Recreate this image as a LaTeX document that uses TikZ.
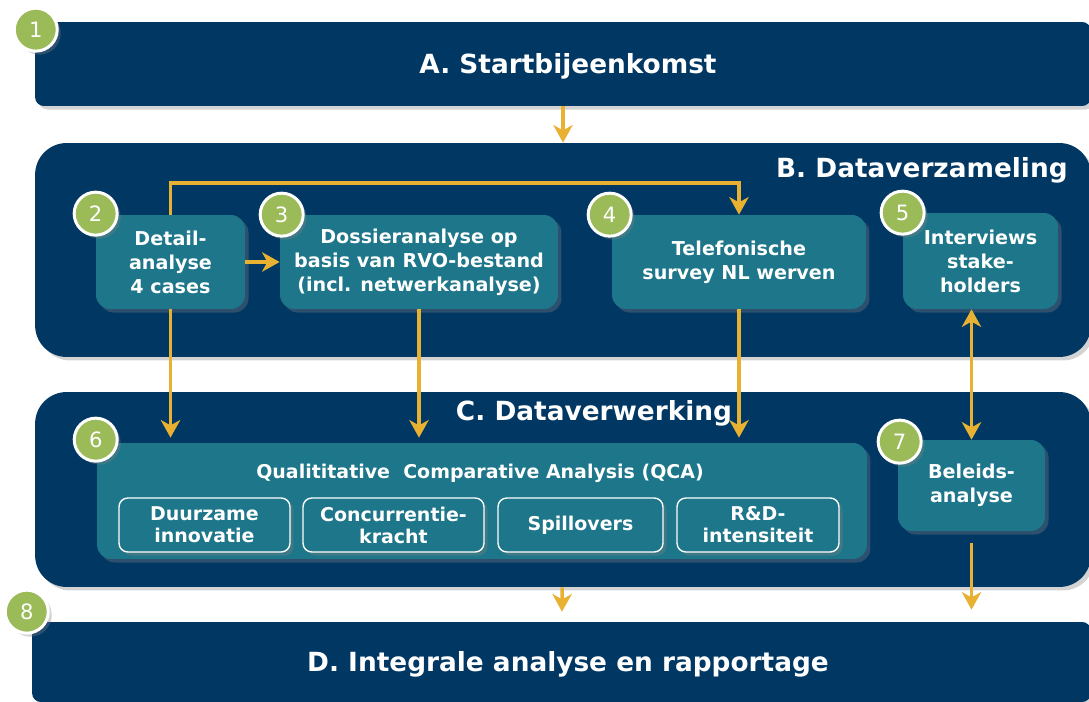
\documentclass[tikz,border=0pt]{standalone}
\usepackage{fontspec}
\setmainfont{DejaVu Sans}
\usetikzlibrary{positioning, arrows.meta, shadows}
\definecolor{navy}{RGB}{0,55,99}
\definecolor{petrol}{RGB}{29,118,137}
\definecolor{gold}{RGB}{232,177,50}
\definecolor{leaf}{RGB}{155,187,89}
\tikzset{>={Stealth[length=10pt, width=11pt, inset=3pt]},
	soft shadow/.style={drop shadow={opacity=0.35, shadow xshift=2pt, shadow yshift=-2pt}},
	phase/.style={fill=navy, text=white, soft shadow, font=\bfseries\fontsize{15}{18}\selectfont},
	title/.style={text=white, inner sep=0pt, font=\bfseries\fontsize{15}{18}\selectfont},
	task/.style={fill=petrol, rounded corners=8pt, text=white, align=center, soft shadow, font=\bfseries\fontsize{10.9}{13.6}\selectfont},
	factor/.style={draw=white, line width=0.8pt, fill=petrol, rounded corners=5pt, text=white, align=center, minimum height=1.08cm, soft shadow, font=\bfseries\fontsize{10.8}{12.5}\selectfont},
	num/.style={circle, fill=leaf, draw=white, line width=1.7pt, minimum size=0.86cm, inner sep=0pt, text=white, soft shadow, font=\fontsize{12}{12}\selectfont},
	flow/.style={draw=gold, line width=2pt, ->}}

\begin{document}
\begin{tikzpicture}[x=0.02cm, y=-0.02cm]
	\clip (0,0) rectangle (1089,702);
	% phases
	\node[phase, rounded corners=5pt, minimum width=21.12cm, minimum height=1.68cm] (Start) at (563,64) {};
	\node[phase, rounded corners=18pt, minimum width=21.12cm, minimum height=4.28cm] (Collect) at (563,250) {};
	\node[phase, rounded corners=18pt, minimum width=21.12cm, minimum height=3.9cm] (Process) at (563,489.5) {};
	\node[phase, rounded corners=5pt, minimum width=21.18cm, minimum height=1.6cm] (Report) at (561.5,662) {};
	\node[title] (Start title) at (568,66) {A. Startbijeenkomst};
	\node[title, anchor=east] (Collect title) at (1068,170) {B. Dataverzameling};
	\node[title] (Process title) at (594,413) {C. Dataverwerking};
	\node[title] (Report title) at (568,664) {D. Integrale analyse en rapportage};
	\coordinate (Top) at (0,183);

	% tasks
	\node[task, minimum width=2.98cm, minimum height=1.88cm] (Detail) at (170.5,262) {Detail-\\analyse\\4 cases};
	\node[task, minimum width=5.56cm, minimum height=1.88cm] (Dossier) at (419,262) {Dossieranalyse op\\basis van RVO-bestand\\(incl. netwerkanalyse)};
	\node[task, minimum width=5.08cm, minimum height=1.88cm] (Survey) at (739,262) {Telefonische\\survey NL werven};
	\node[task, minimum width=3.1cm, minimum height=1.92cm] (Interviews) at (980.5,261) {Interviews\\stake-\\holders};
	\node[task, minimum width=15.4cm, minimum height=2.32cm] (QCA) at (482,501) {};
	\node[text=white, inner sep=0pt, font=\bfseries\fontsize{10.8}{12}\selectfont] (QCA title) at (480,473) {Qualititative\ \ Comparative Analysis (QCA)};
	\node[factor, minimum width=3.42cm] (Duurzaam) at (204.5,525) {Duurzame\\innovatie};
	\node[factor, minimum width=3.62cm] (Concurrentie) at (393.5,525) {Concurrentie-\\kracht};
	\node[factor, minimum width=3.3cm] (Spillovers) at (580.5,525) {Spillovers};
	\node[factor, minimum width=3.24cm] (RD) at (758,525) {R\&D-\\intensiteit};
	\node[task, minimum width=2.94cm, minimum height=1.82cm] (Beleid) at (971.5,485.5) {Beleids-\\analyse};

	% connectors
	\draw[flow] (Start) -- (Collect);
	\draw[flow, shorten >=0.2cm] (Process) -- (Report);
	\draw[flow] (Detail) -- (Dossier);
	\draw[flow] (Detail.north) |- (Survey.north |- Top) -- (Survey.north);
	\draw[flow, shorten >=0.1cm] (Detail.south) -- (Detail.south |- QCA.north);
	\draw[flow, shorten >=0.1cm] (Dossier.south) -- (Dossier.south |- QCA.north);
	\draw[flow, shorten >=0.1cm] (Survey.south) -- (Survey.south |- QCA.north);
	\draw[flow, <->] (Beleid.north) -- (Beleid.north |- Interviews.south);
	\draw[flow, shorten <=0.24cm, shorten >=0.24cm] (Beleid.south) -- (Beleid.south |- Report.north);

	% step numbers
	\node[num] (Num1) at ([shift={(1,8)}]Start.north west) {1};
	\node[num] (Num2) at ([shift={(0,-1)}]Detail.north west) {2};
	\node[num] (Num3) at ([shift={(2,0)}]Dossier.north west) {3};
	\node[num] (Num4) at ([shift={(-2,0)}]Survey.north west) {4};
	\node[num] (Num5) at (Interviews.north west) {5};
	\node[num] (Num6) at ([shift={(-1,-3)}]QCA.north west) {6};
	\node[num] (Num7) at ([shift={(2,2)}]Beleid.north west) {7};
	\node[num] (Num8) at ([shift={(-5,-10)}]Report.north west) {8};
\end{tikzpicture}
\end{document}
